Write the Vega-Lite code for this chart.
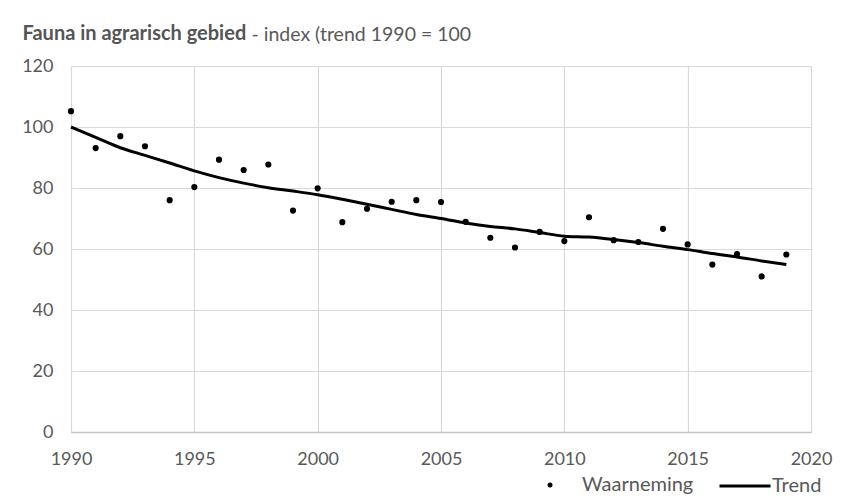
{
  "$schema": "https://vega.github.io/schema/vega-lite/v6.json",
  "autosize": {"type": "none"},
  "padding": {"left": 71, "top": 66, "right": 34, "bottom": 72},
  "width": 740,
  "height": 366,
  "background": "white",
  "data": {
    "values": [
      {"jaar": 1990, "waarneming": 105.2, "trend": 100.0},
      {"jaar": 1991, "waarneming": 93.1, "trend": 96.6},
      {"jaar": 1992, "waarneming": 97.0, "trend": 93.2},
      {"jaar": 1993, "waarneming": 93.7, "trend": 90.7},
      {"jaar": 1994, "waarneming": 76.0, "trend": 88.2},
      {"jaar": 1995, "waarneming": 80.3, "trend": 85.6},
      {"jaar": 1996, "waarneming": 89.3, "trend": 83.4},
      {"jaar": 1997, "waarneming": 85.9, "trend": 81.6},
      {"jaar": 1998, "waarneming": 87.7, "trend": 80.1},
      {"jaar": 1999, "waarneming": 72.6, "trend": 79.0},
      {"jaar": 2000, "waarneming": 79.9, "trend": 77.8},
      {"jaar": 2001, "waarneming": 68.8, "trend": 76.3},
      {"jaar": 2002, "waarneming": 73.2, "trend": 74.7},
      {"jaar": 2003, "waarneming": 75.5, "trend": 73.0},
      {"jaar": 2004, "waarneming": 76.0, "trend": 71.3},
      {"jaar": 2005, "waarneming": 75.4, "trend": 70.0},
      {"jaar": 2006, "waarneming": 68.9, "trend": 68.5},
      {"jaar": 2007, "waarneming": 63.7, "trend": 67.4},
      {"jaar": 2008, "waarneming": 60.5, "trend": 66.6},
      {"jaar": 2009, "waarneming": 65.6, "trend": 65.4},
      {"jaar": 2010, "waarneming": 62.6, "trend": 64.2},
      {"jaar": 2011, "waarneming": 70.4, "trend": 63.9},
      {"jaar": 2012, "waarneming": 62.9, "trend": 63.1},
      {"jaar": 2013, "waarneming": 62.3, "trend": 62.1},
      {"jaar": 2014, "waarneming": 66.6, "trend": 60.9},
      {"jaar": 2015, "waarneming": 61.5, "trend": 59.8},
      {"jaar": 2016, "waarneming": 54.9, "trend": 58.5},
      {"jaar": 2017, "waarneming": 58.3, "trend": 57.4},
      {"jaar": 2018, "waarneming": 51.0, "trend": 56.1},
      {"jaar": 2019, "waarneming": 58.2, "trend": 54.9}
    ]
  },
  "encoding": {
    "x": {
      "field": "jaar",
      "type": "quantitative",
      "scale": {"domain": [1990, 2020], "nice": false, "zero": false},
      "axis": {
        "values": [1990, 1995, 2000, 2005, 2010, 2015, 2020],
        "format": "d",
        "title": "Fauna in agrarisch gebied",
        "titleAngle": 0,
        "titleAlign": "left",
        "titleBaseline": "alphabetic",
        "titleX": -49,
        "titleY": -393,
        "titleFont": "Lato",
        "titleFontSize": 20,
        "titleFontWeight": "bold",
        "titleColor": "#555555",
        "ticks": false,
        "tickSize": 0,
        "labelPadding": 27,
        "labelBaseline": "middle",
        "domainColor": "#c4c4c4",
        "domainWidth": 1.5,
        "gridColor": "#d9d9d9",
        "gridWidth": 1.2,
        "labelFlush": false
      }
    }
  },
  "layer": [
    {
      "mark": {"type": "line", "color": "#000000", "strokeWidth": 3, "interpolate": "monotone"},
      "encoding": {
        "y": {
          "field": "trend",
          "type": "quantitative",
          "scale": {"domain": [0, 120], "nice": false},
          "axis": {
            "values": [0, 20, 40, 60, 80, 100, 120],
            "title": "- index (trend 1990 = 100",
            "titleAngle": 0,
            "titleAlign": "left",
            "titleBaseline": "alphabetic",
            "titleX": 180,
            "titleY": -26,
            "titleFont": "Lato",
            "titleFontSize": 19.5,
            "titleFontWeight": "normal",
            "titleColor": "#595959",
            "ticks": false,
            "tickSize": 0,
            "labelPadding": 18,
            "domain": false,
            "gridColor": "#d9d9d9",
            "gridWidth": 1.2
          }
        },
        "color": {
          "datum": "Trend",
          "scale": {"domain": ["Trend"], "range": ["#000000"]},
          "legend": {
            "orient": "none",
            "legendX": 647,
            "legendY": 393,
            "title": null,
            "symbolType": "stroke",
            "symbolSize": 2600,
            "symbolStrokeWidth": 3,
            "labelOffset": 0,
            "padding": 0
          }
        }
      }
    },
    {
      "mark": {"type": "point", "filled": true, "color": "#000000", "size": 38, "opacity": 1},
      "encoding": {
        "y": {"field": "waarneming", "type": "quantitative"},
        "shape": {
          "datum": "Waarneming",
          "scale": {"domain": ["Waarneming"], "range": ["circle"]},
          "legend": {
            "orient": "none",
            "legendX": 469,
            "legendY": 409,
            "title": null,
            "symbolSize": 25,
            "symbolFillColor": "#000000",
            "symbolStrokeWidth": 0,
            "labelOffset": 22,
            "padding": 0
          }
        }
      }
    }
  ],
  "config": {
    "font": "Lato",
    "view": {"stroke": null},
    "axis": {
      "labelFont": "Lato",
      "labelFontSize": 18,
      "labelColor": "#595959"
    },
    "legend": {
      "labelFont": "Lato",
      "labelFontSize": 20,
      "labelColor": "#595959"
    }
  }
}
